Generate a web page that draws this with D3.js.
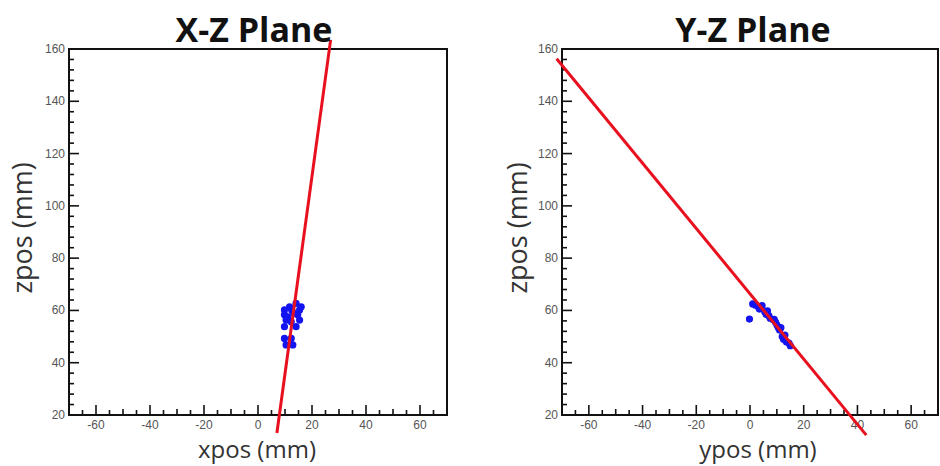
<!DOCTYPE html>
<html>
<head>
<meta charset="utf-8">
<script src="https://cdn.jsdelivr.net/npm/d3@7"></script>
<style>
  html, body { margin: 0; padding: 0; background: #fff; }
  svg { display: block; }
</style>
</head>
<body>
<svg id="chart" width="940" height="466"></svg>
<script>
// ---- data ----
const titles = ["X-Z Plane", "Y-Z Plane"];
const xTitles = ["xpos (mm)", "ypos (mm)"];
const yTitle = "zpos (mm)";
const xDomain = [-70, 70];
const zDomain = [20, 160];
const xTickLabels = [-60, -40, -20, 0, 20, 40, 60];
const zTickLabels = [20, 40, 60, 80, 100, 120, 140, 160];

// X-Z hits
const xzX = [11.7, 14.1, 16.0, 9.8, 12.5, 15.4, 9.8, 14.7, 10.4, 15.4, 12.3, 9.8, 14.1, 9.8, 12.3, 10.4, 12.9, 13.2, 11.0];
const xzZ = [61.4, 62.7, 61.4, 60.2, 60.0, 60.2, 58.3, 58.3, 56.3, 56.3, 55.7, 53.8, 53.8, 49.3, 49.3, 46.8, 46.8, 59.0, 57.5];
// Y-Z hits
const yzY = [1.0, 2.0, 3.0, 3.5, 4.5, 5.5, 6.0, 6.5, 7.0, 7.5, 8.5, 9.0, 9.5, 10.0, 10.5, 11.0, 11.5, 12.0, 12.5, 13.0, 13.5, 14.5, 15.0, -0.2];
const yzZ = [62.5, 62.0, 61.5, 60.5, 61.8, 59.5, 58.5, 59.8, 58.0, 57.0, 56.5, 56.6, 55.5, 54.5, 53.5, 52.5, 53.4, 50.0, 49.0, 50.6, 48.0, 47.5, 46.5, 56.7];
// fitted track lines (end points)
const xzFitX = [7.0, 26.9];
const xzFitZ = [13.1, 163.5];
const yzFitY = [-72.0, 43.3];
const yzFitZ = [156.3, 12.3];

// ---- layout ----
const panels = [
  { left: 69, right: 447, top: 49, bottom: 415, title: titles[0], xTitle: xTitles[0],
    px: xzX, pz: xzZ, fx: xzFitX, fz: xzFitZ, titleX: 254, xTitleX: 257, yTitleX: 32 },
  { left: 562, right: 938, top: 49, bottom: 415, title: titles[1], xTitle: xTitles[1],
    px: yzY, pz: yzZ, fx: yzFitY, fz: yzFitZ, titleX: 753, xTitleX: 758, yTitleX: 527 }
];

const svg = d3.select("#chart");

panels.forEach(p => {
  const x = d3.scaleLinear().domain(xDomain).range([p.left, p.right]);
  const y = d3.scaleLinear().domain(zDomain).range([p.bottom, p.top]);
  const g = svg.append("g");

  // ticks - x axis (pointing up from bottom)
  const xMinor = d3.range(-70, 70.01, 5);
  g.selectAll(".xt").data(xMinor).enter().append("line")
    .attr("x1", d => x(d)).attr("x2", d => x(d))
    .attr("y1", p.bottom)
    .attr("y2", d => p.bottom - (d % 20 === 0 ? 10 : (d % 10 === 0 ? 6 : 5)))
    .attr("stroke", "#111").attr("stroke-width", 1.6);

  // ticks - z axis (pointing right from left)
  const zMinor = d3.range(20, 160.01, 4);
  g.selectAll(".zt").data(zMinor).enter().append("line")
    .attr("y1", d => y(d)).attr("y2", d => y(d))
    .attr("x1", p.left)
    .attr("x2", d => p.left + ((d - 20) % 20 === 0 ? 10 : 5))
    .attr("stroke", "#111").attr("stroke-width", 1.6);

  // frame
  g.append("rect")
    .attr("x", p.left).attr("y", p.top)
    .attr("width", p.right - p.left).attr("height", p.bottom - p.top)
    .attr("fill", "none").attr("stroke", "#111").attr("stroke-width", 2);

  // tick labels
  g.selectAll(".xl").data(xTickLabels).enter().append("text")
    .attr("x", d => x(d)).attr("y", p.bottom + 14)
    .attr("text-anchor", "middle")
    .attr("font-family", "Liberation Sans, Arial, sans-serif")
    .attr("font-size", 12).attr("fill", "#555")
    .text(d => d);
  g.selectAll(".zl").data(zTickLabels).enter().append("text")
    .attr("x", p.left - 4).attr("y", d => y(d) + 4)
    .attr("text-anchor", "end")
    .attr("font-family", "Liberation Sans, Arial, sans-serif")
    .attr("font-size", 12).attr("fill", "#555")
    .text(d => d);

  // points
  const pts = p.px.map((v, i) => [v, p.pz[i]]);
  g.selectAll(".pt").data(pts).enter().append("circle")
    .attr("cx", d => x(d[0])).attr("cy", d => y(d[1]))
    .attr("r", 3.6).attr("fill", "#1414f0");

  // fit line
  const fit = p.fx.map((v, i) => [v, p.fz[i]]);
  g.append("path")
    .attr("d", d3.line().x(d => x(d[0])).y(d => y(d[1]))(fit))
    .attr("stroke", "#e8101e").attr("stroke-width", 3).attr("fill", "none");

  // titles
  g.append("text")
    .attr("x", p.titleX).attr("y", 42)
    .attr("text-anchor", "middle")
    .attr("font-family", "Open Sans, sans-serif")
    .attr("font-weight", "bold").attr("font-size", 34).attr("fill", "#111")
    .text(p.title);
  g.append("text")
    .attr("x", p.xTitleX).attr("y", 458)
    .attr("text-anchor", "middle")
    .attr("font-family", "Open Sans, sans-serif")
    .attr("font-size", 24).attr("fill", "#333")
    .text(p.xTitle);
  g.append("text")
    .attr("transform", `translate(${p.yTitleX},228) rotate(-90)`)
    .attr("text-anchor", "middle")
    .attr("font-family", "Open Sans, sans-serif")
    .attr("font-size", 27).attr("fill", "#333")
    .text(yTitle);
});
</script>
</body>
</html>
